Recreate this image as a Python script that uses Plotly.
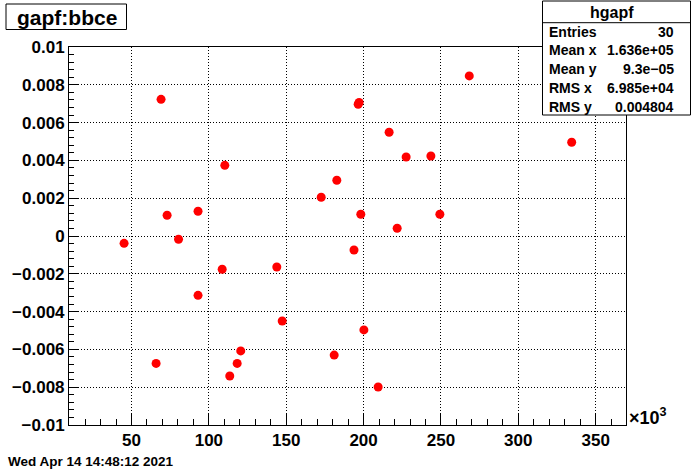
import plotly.graph_objects as go

# Data (x in units of 10^3)
x_k = [45.2, 65.9, 69.1, 73.0, 80.4, 93.0, 93.0, 108.6, 110.3, 113.5,
       118.3, 120.6, 143.9, 147.4, 172.6, 181.0, 182.7, 193.8, 196.5, 197.1,
       198.2, 200.2, 209.4, 216.5, 221.7, 227.5, 243.5, 249.3, 268.3, 334.5]
y_vals = [-0.00039, -0.00674, 0.00723, 0.00110, -0.00017, 0.00131, -0.00314, -0.00176, 0.00374, -0.00741,
          -0.00674, -0.00608, -0.00164, -0.00450, 0.00205, -0.00630, 0.00295, -0.00074, 0.00697, 0.00707,
          0.00115, -0.00497, -0.00799, 0.00549, 0.00041, 0.00418, 0.00423, 0.00115, 0.00847, 0.00496]

title_text = "gapf:bbce"
stats_name = "hgapf"
stats_labels = ["Entries", "Mean x", "Mean y", "RMS x", "RMS y"]
stats_values = ["30", "1.636e+05", "9.3e\u221205", "6.985e+04", "0.004804"]
date_text = "Wed Apr 14 14:48:12 2021"

x_ticks = [50, 100, 150, 200, 250, 300, 350]
y_ticks = [-0.01, -0.008, -0.006, -0.004, -0.002, 0, 0.002, 0.004, 0.006, 0.008, 0.01]
y_ticktext = ["\u22120.01", "\u22120.008", "\u22120.006", "\u22120.004", "\u22120.002", "0",
              "0.002", "0.004", "0.006", "0.008", "0.01"]

W, H = 696, 472
L, R, T, B = 69, 626, 47, 425
FONT = "Liberation Sans, Arial, Helvetica, sans-serif"


def px(xp):
    return (xp - L) / (R - L)


def py(yp):
    return (B - yp) / (B - T)


fig = go.Figure()
fig.add_trace(go.Scatter(
    x=x_k, y=y_vals, mode="markers",
    marker=dict(color="#ff0000", size=9, symbol="circle", line=dict(width=0)),
    hoverinfo="x+y", showlegend=False,
))

axis_common = dict(
    showline=True, linecolor="black", linewidth=1, mirror=True,
    showgrid=True, gridcolor="black", gridwidth=1, griddash="1px,2px",
    zeroline=False, ticks="inside", tickcolor="black", tickwidth=1,
    tickfont=dict(family=FONT, size=17, color="black", weight="bold"),
)

fig.update_xaxes(
    range=[9.6, 369.6], tickvals=x_ticks, ticklen=11,
    minor=dict(dtick=10, tick0=0, ticklen=6, ticks="inside", tickcolor="black", showgrid=False),
    **axis_common,
)
fig.update_yaxes(
    range=[-0.01, 0.01], tickvals=y_ticks, ticktext=y_ticktext, ticklen=9,
    minor=dict(dtick=0.0004, tick0=0, ticklen=5, ticks="inside", tickcolor="black", showgrid=False),
    **axis_common,
)

shapes = []
annotations = []

# Title box
shapes.append(dict(type="rect", xref="paper", yref="paper",
                   x0=px(6), x1=px(126.5), y0=py(4), y1=py(29.5),
                   line=dict(color="black", width=1), fillcolor="white", layer="above"))
annotations.append(dict(text=title_text, xref="paper", yref="paper",
                        x=px(66.5), y=py(17), xanchor="center", yanchor="middle",
                        showarrow=False, font=dict(family=FONT, size=21, color="black", weight="bold")))

# Stats box
shapes.append(dict(type="rect", xref="paper", yref="paper",
                   x0=px(542.5), x1=px(690.5), y0=py(1), y1=py(115),
                   line=dict(color="black", width=1), fillcolor="white", layer="above"))
shapes.append(dict(type="line", xref="paper", yref="paper",
                   x0=px(542.5), x1=px(690.5), y0=py(22.7), y1=py(22.7),
                   line=dict(color="black", width=1), layer="above"))
annotations.append(dict(text=stats_name, xref="paper", yref="paper",
                        x=px(612), y=py(12.5), xanchor="center", yanchor="middle",
                        showarrow=False, font=dict(family=FONT, size=16, color="black", weight="bold")))
row_y = [31.5, 50, 69, 88, 107]
for lab, val, yy in zip(stats_labels, stats_values, row_y):
    annotations.append(dict(text=lab, xref="paper", yref="paper",
                            x=px(547), y=py(yy), xanchor="left", yanchor="middle",
                            showarrow=False, font=dict(family=FONT, size=14, color="black", weight="bold")))
    annotations.append(dict(text=val, xref="paper", yref="paper",
                            x=px(676), y=py(yy), xanchor="right", yanchor="middle",
                            showarrow=False, font=dict(family=FONT, size=14, color="black", weight="bold")))

# x10^3 label
annotations.append(dict(text="\u00d710<sup>3</sup>", xref="paper", yref="paper",
                        x=px(627), y=py(416), xanchor="left", yanchor="middle",
                        showarrow=False, font=dict(family=FONT, size=18, color="black", weight="bold")))

# Date
annotations.append(dict(text=date_text, xref="paper", yref="paper",
                        x=px(6), y=py(461), xanchor="left", yanchor="middle",
                        showarrow=False, font=dict(family=FONT, size=13.5, color="black", weight="bold")))

fig.update_layout(
    width=W, height=H,
    margin=dict(l=L, r=W - R, t=T, b=H - B, pad=0),
    paper_bgcolor="white", plot_bgcolor="white",
    shapes=shapes, annotations=annotations,
    showlegend=False,
)

fig.write_html("out.html", config={"displayModeBar": False},
               post_script="document.body.style.margin='0';document.body.style.overflow='hidden';")
